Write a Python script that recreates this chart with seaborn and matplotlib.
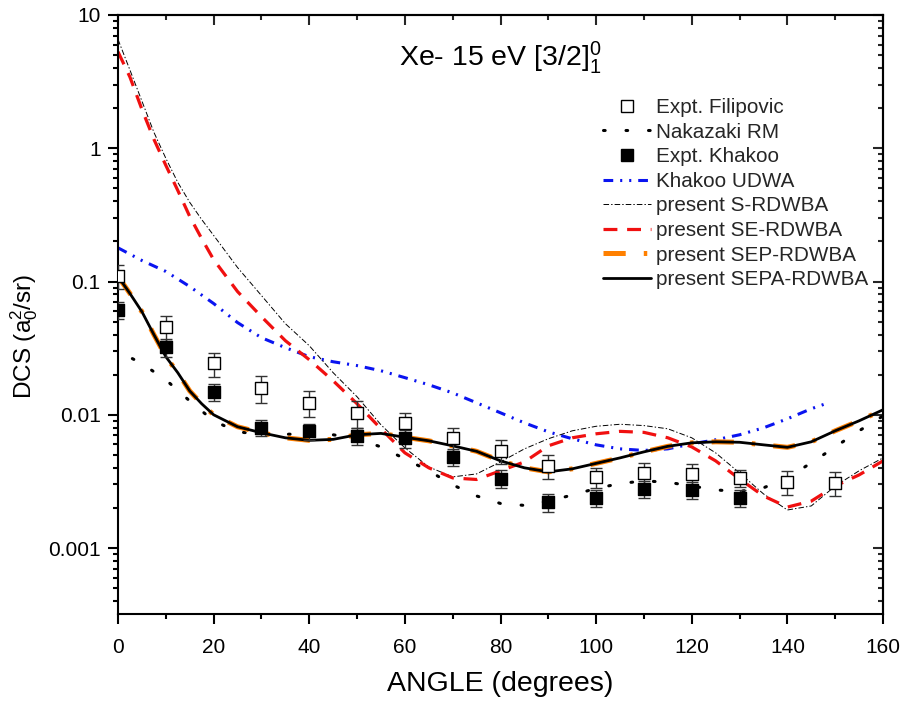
import numpy as np
import pandas as pd
import matplotlib
matplotlib.use("Agg")
import matplotlib.pyplot as plt
from matplotlib.lines import Line2D
from matplotlib.ticker import FixedLocator, LogLocator, NullFormatter, FixedFormatter
import seaborn as sns

# ---------------- data ----------------
ang_th = [0, 2.5, 5, 7.5, 10, 12.5, 15, 17.5, 20, 25, 30, 35, 40, 45, 50, 55, 60, 65, 70,
          75, 80, 85, 90, 95, 100, 105, 110, 115, 120, 125, 130, 135, 140, 145, 150, 155, 160]

sepa = [0.1093, 0.0813, 0.0594, 0.040, 0.0273, 0.0207, 0.0151, 0.0121, 0.0100, 0.00813,
        0.00733, 0.00672, 0.00643, 0.00654, 0.00708, 0.00725, 0.00678, 0.00638, 0.00585,
        0.00532, 0.00451, 0.0040, 0.00373, 0.00393, 0.00432, 0.00475, 0.00527, 0.00580,
        0.00616, 0.00627, 0.00622, 0.00595, 0.00570, 0.00627, 0.00758, 0.00901, 0.0109]
sep = [0.1093, 0.0813, 0.0594, 0.040, 0.0273, 0.0207, 0.0151, 0.0121, 0.0100, 0.00813,
       0.00733, 0.00672, 0.00643, 0.00654, 0.00708, 0.00725, 0.00678, 0.00638, 0.00585,
       0.00532, 0.00451, 0.0040, 0.00373, 0.00393, 0.00432, 0.00475, 0.00527, 0.00580,
       0.00616, 0.00627, 0.00622, 0.00595, 0.00570, 0.00627, 0.00758, 0.00901, 0.0109]
s_rdwba = [6.56, 3.86, 2.26, 1.32, 0.841, 0.555, 0.393, 0.292, 0.222, 0.1274, 0.0785,
           0.0483, 0.0330, 0.0207, 0.01365, 0.00841, 0.00565, 0.00406, 0.00342, 0.0036,
           0.00443, 0.00555, 0.00661, 0.00758, 0.0082, 0.00849, 0.0083, 0.00785, 0.00672,
           0.00518, 0.00366, 0.00255, 0.00193, 0.00207, 0.00292, 0.0038, 0.00475]
se_rdwba = [5.3, 3.42, 1.96, 1.17, 0.745, 0.483, 0.308, 0.21, 0.146, 0.0841, 0.0545,
            0.036, 0.0259, 0.018, 0.0121, 0.00785, 0.00518, 0.0040, 0.00336, 0.00327,
            0.0038, 0.00443, 0.00585, 0.00672, 0.0072, 0.00751, 0.00738, 0.00672, 0.00574,
            0.00451, 0.0033, 0.00246, 0.00203, 0.00225, 0.00292, 0.00354, 0.00451]

udwa_ang = [0, 5, 10, 15, 20, 25, 30, 35, 40, 45, 50, 55, 60, 65, 70, 75, 80, 85, 90,
            95, 100, 105, 110, 115, 120, 125, 130, 135, 140, 145, 148]
udwa = [0.179, 0.1438, 0.119, 0.0917, 0.0684, 0.0492, 0.0379, 0.0319, 0.0273, 0.025,
        0.0234, 0.0214, 0.019, 0.0168, 0.0146, 0.0123, 0.01035, 0.0087, 0.00745, 0.00661,
        0.00595, 0.00555, 0.0054, 0.00555, 0.00605, 0.00649, 0.00708, 0.00798, 0.00933,
        0.0111, 0.0121]

naka_ang = [3, 5, 10, 15, 20, 25, 30, 35, 40, 45, 50, 55, 60, 65, 70, 75, 80, 85, 90,
            95, 100, 105, 110, 115, 120, 125, 130, 135, 140, 145, 150, 155, 160]
naka = [0.0264, 0.0242, 0.0183, 0.0127, 0.00901, 0.00745, 0.00714, 0.00714, 0.0072,
        0.00708, 0.00661, 0.00574, 0.00467, 0.0038, 0.00298, 0.00246, 0.00216, 0.00209,
        0.00225, 0.0025, 0.0028, 0.00305, 0.00319, 0.00312, 0.00292, 0.00273, 0.00266,
        0.00283, 0.00336, 0.00436, 0.00574, 0.00758, 0.0098]

fil_ang = [0, 10, 20, 30, 40, 50, 60, 70, 80, 90, 100, 110, 120, 130, 140, 150]
fil = [0.110, 0.0453, 0.0243, 0.0158, 0.0123, 0.0103, 0.0087, 0.00664, 0.00536, 0.00414,
       0.00342, 0.00366, 0.0036, 0.00336, 0.00313, 0.00308]
fil_err = [0.022, 0.0095, 0.005, 0.0036, 0.0027, 0.0023, 0.0017, 0.0013, 0.0011, 0.00085,
           0.0006, 0.0007, 0.0007, 0.0005, 0.00065, 0.00062]

kha_ang = [0, 10, 20, 30, 40, 50, 60, 70, 80, 90, 100, 110, 120, 130]
kha = [0.0612, 0.0321, 0.0149, 0.00798, 0.0075, 0.00692, 0.00664, 0.00486, 0.00332,
       0.0022, 0.00239, 0.00276, 0.00275, 0.00237]
kha_err = [0.0085, 0.0048, 0.0022, 0.0011, 0.001, 0.001, 0.001, 0.0007, 0.0005, 0.00033,
           0.00036, 0.0004, 0.0004, 0.00035]

labels = ["Expt. Filipovic", "Nakazaki RM", "Expt. Khakoo", "Khakoo UDWA",
          "present S-RDWBA", "present SE-RDWBA", "present SEP-RDWBA", "present SEPA-RDWBA"]

# ---------------- style ----------------
sns.set_theme(style="ticks")
plt.rcParams['font.family'] = ['Liberation Sans', 'DejaVu Sans']
plt.rcParams['mathtext.fontset'] = 'custom'
plt.rcParams['mathtext.rm'] = 'Liberation Sans'
plt.rcParams['mathtext.it'] = 'Liberation Sans:italic'
plt.rcParams['mathtext.bf'] = 'Liberation Sans:bold'
plt.rcParams['lines.scale_dashes'] = False

fig = plt.figure(figsize=(9.06, 7.06), dpi=100)
ax = fig.add_axes([118/906, 1-614/706, (883-118)/906, (614-15)/706])

ls_blue = (0, (7, 5, 1.5, 5, 1.5, 5))
ls_red = (0, (10, 7))
ls_thin = (0, (4, 1.5, 1, 1.5))
ls_orange = (0, (16, 13, 2.5, 13))
ls_dot = (0, (1.2, 15))

d_s = pd.DataFrame({"angle": ang_th, "dcs": s_rdwba})
d_se = pd.DataFrame({"angle": ang_th, "dcs": se_rdwba})
d_sep = pd.DataFrame({"angle": ang_th, "dcs": sep})
d_sepa = pd.DataFrame({"angle": ang_th, "dcs": sepa})
d_udwa = pd.DataFrame({"angle": udwa_ang, "dcs": udwa})
d_naka = pd.DataFrame({"angle": naka_ang, "dcs": naka})

sns.lineplot(data=d_naka, x="angle", y="dcs", ax=ax, color="black", lw=2.2,
             linestyle=ls_dot, dash_capstyle="round", sort=False)
sns.lineplot(data=d_udwa, x="angle", y="dcs", ax=ax, color="#0a14f0", lw=2.2,
             linestyle=ls_blue, sort=False)
sns.lineplot(data=d_s, x="angle", y="dcs", ax=ax, color="black", lw=0.7,
             linestyle=ls_thin, sort=False)
sns.lineplot(data=d_se, x="angle", y="dcs", ax=ax, color="#f01010", lw=2.3,
             linestyle=ls_red, sort=False)
sns.lineplot(data=d_sep, x="angle", y="dcs", ax=ax, color="#ff8000", lw=3.6,
             linestyle=ls_orange, sort=False)
sns.lineplot(data=d_sepa, x="angle", y="dcs", ax=ax, color="black", lw=2.0,
             sort=False)

ax.errorbar(fil_ang, fil, yerr=fil_err, fmt="none", ecolor="#333333", elinewidth=1.0,
            capsize=4.5, capthick=1.0, zorder=4)
ax.errorbar(kha_ang, kha, yerr=kha_err, fmt="none", ecolor="#333333", elinewidth=1.0,
            capsize=4.5, capthick=1.0, zorder=4)
sns.scatterplot(x=fil_ang, y=fil, ax=ax, marker="s", s=85, facecolor="white",
                edgecolor="black", linewidth=1.0, zorder=5)
sns.scatterplot(x=kha_ang, y=kha, ax=ax, marker="s", s=85, color="black",
                edgecolor="black", linewidth=1.0, zorder=5)

ax.set_yscale("log")
ax.set_xlim(0, 160)
ax.set_ylim(3.2e-4, 10)

ax.xaxis.set_major_locator(FixedLocator(list(range(0, 161, 20))))
ax.xaxis.set_minor_locator(FixedLocator(list(range(10, 160, 20))))
ax.yaxis.set_major_locator(FixedLocator([0.001, 0.01, 0.1, 1, 10]))
ax.yaxis.set_major_formatter(FixedFormatter(["0.001", "0.01", "0.1", "1", "10"]))
ax.yaxis.set_minor_locator(LogLocator(base=10, subs=np.arange(2, 10), numticks=20))
ax.yaxis.set_minor_formatter(NullFormatter())

for s in ax.spines.values():
    s.set_linewidth(1.5)
    s.set_color("black")
    s.set_visible(True)

ax.tick_params(axis="both", which="major", direction="out", length=7.5, width=1.5,
               labelsize=15, colors="black")
ax.tick_params(axis="x", which="major", pad=10)
ax.tick_params(axis="y", which="major", pad=5)
ax.tick_params(axis="both", which="minor", direction="out", length=3.8, width=1.5,
               colors="black")

# inward ticks on top and right
axt = ax.secondary_xaxis("top")
axt.xaxis.set_major_locator(FixedLocator(list(range(0, 161, 20))))
axt.xaxis.set_minor_locator(FixedLocator(list(range(10, 160, 20))))
axt.tick_params(which="major", direction="in", length=7.5, width=1.5, labelsize=0, labeltop=False)
axt.tick_params(which="minor", direction="in", length=3.8, width=1.5)
axt.spines["top"].set_linewidth(1.5)
axr = ax.secondary_yaxis("right")
axr.yaxis.set_major_locator(FixedLocator([0.001, 0.01, 0.1, 1, 10]))
axr.yaxis.set_minor_locator(LogLocator(base=10, subs=np.arange(2, 10), numticks=20))
axr.yaxis.set_minor_formatter(NullFormatter())
axr.tick_params(which="major", direction="in", length=7.5, width=1.5, labelright=False)
axr.tick_params(which="minor", direction="in", length=3.8, width=1.5)
axr.spines["right"].set_linewidth(1.5)

ax.set_xlabel("ANGLE (degrees)", fontsize=20.5, labelpad=10, color="black")
ax.set_ylabel(r"DCS (a$_0^2$/sr)", fontsize=17.5, color="black")
ax.yaxis.set_label_coords((40-118)/765, (614-336)/599)

ax.text(0.5, (614-58)/599, r"Xe- 15 eV [3/2]$_1^0$", transform=ax.transAxes, ha="center",
        va="center", fontsize=20.5, color="black")

handles = [
    Line2D([], [], ls="none", marker="s", ms=9, mfc="white", mec="black", mew=1.0),
    Line2D([], [], color="black", lw=2.2, ls=ls_dot, dash_capstyle="round"),
    Line2D([], [], ls="none", marker="s", ms=9, mfc="black", mec="black"),
    Line2D([], [], color="#0a14f0", lw=2.2, ls=ls_blue),
    Line2D([], [], color="black", lw=0.7, ls=ls_thin),
    Line2D([], [], color="#f01010", lw=2.3, ls=ls_red),
    Line2D([], [], color="#ff8000", lw=3.6, ls=ls_orange),
    Line2D([], [], color="black", lw=2.0),
]
leg = fig.legend(handles, labels, loc="upper left", bbox_to_anchor=(603/906, 1-98/706),
                 frameon=False, fontsize=14.9, handlelength=2.3, handletextpad=0.28,
                 labelspacing=0.27, borderpad=0, borderaxespad=0)

fig.savefig("out.png", dpi=100)
